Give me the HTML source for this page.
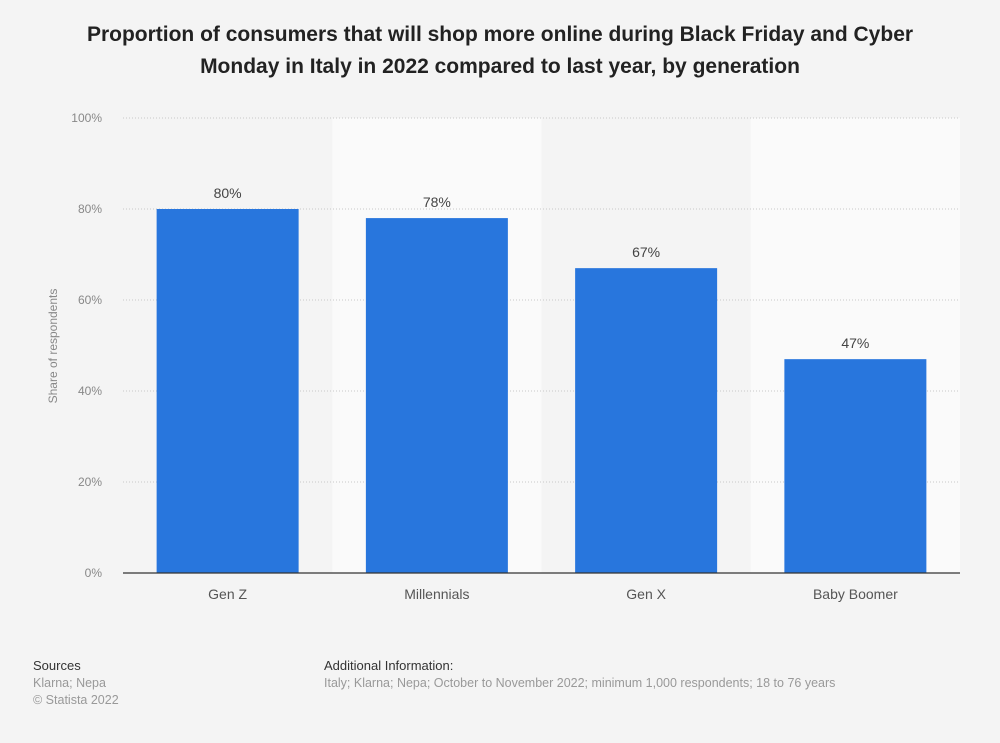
<!DOCTYPE html>
<html><head><meta charset="utf-8"><style>
body{margin:0;background:#f4f4f4;font-family:"Liberation Sans",Arial,sans-serif;}
#wrap{position:relative;width:1000px;height:743px;overflow:hidden;background:#f4f4f4;}
h1{position:absolute;left:0;top:19px;width:1000px;margin:0;text-align:center;font-size:21px;line-height:32px;font-weight:bold;color:#222;}
.ft{position:absolute;font-size:12.5px;color:#999;line-height:17px;}
.ft b{color:#333;font-weight:normal;font-size:13px;}
</style></head><body>
<div id="wrap">
<h1>Proportion of consumers that will shop more online during Black Friday and Cyber<br>Monday in Italy in 2022 compared to last year, by generation</h1>
<svg id="chart" width="1000" height="743" style="position:absolute;left:0;top:0"></svg>
<div class="ft" style="left:33px;top:657px"><b>Sources</b><br>Klarna; Nepa<br>© Statista 2022</div>
<div class="ft" style="left:324px;top:657px"><b>Additional Information:</b><br>Italy; Klarna; Nepa; October to November 2022; minimum 1,000 respondents; 18 to 76 years</div>
</div>
<script>
const categories=["Gen Z","Millennials","Gen X","Baby Boomer"];
const values=[80,78,67,47];
const valueLabels=["80%","78%","67%","47%"];
const ticks=[0,20,40,60,80,100];
const tickLabels=["0%","20%","40%","60%","80%","100%"];
const NS="http://www.w3.org/2000/svg";
const svg=document.getElementById('chart');
const x0=123,x1=960,y0=573,y1=118;
const bw=(x1-x0)/categories.length;
const y=v=>y0-(v/100)*(y0-y1);
function mk(t,a,txt){const e=document.createElementNS(NS,t);for(const k in a)e.setAttribute(k,a[k]);if(txt!==undefined)e.textContent=txt;svg.appendChild(e);return e;}
categories.forEach((c,i)=>{
  const r=mk('rect',{x:x0+i*bw,y:y1,width:bw,height:y0-y1,fill:i%2?'#fafafa':'#f4f4f4'});
  
  
});
ticks.forEach((t,i)=>{
  const l=mk('line',{x1:x0,x2:x1,y1:y(t),y2:y(t),stroke:'#c8c8c8','stroke-dasharray':'1,2'});
  
  
  const tx=mk('text',{x:102,y:y(t)+4,'text-anchor':'end','font-size':12,fill:'#888'},tickLabels[i]);
  
  
});
categories.forEach((c,i)=>{
  const cx=x0+(i+0.5)*bw,w=142;
  const b=mk('rect',{x:cx-w/2,y:y(values[i]),width:w,height:y0-y(values[i]),fill:'#2876dd'});
  
  
  const v=mk('text',{x:cx,y:y(values[i])-11,'text-anchor':'middle','font-size':14,fill:'#444'},valueLabels[i]);
  
  
  const xl=mk('text',{x:cx,y:599,'text-anchor':'middle','font-size':14,fill:'#555'},c);
  
  
});
const base=mk('line',{x1:x0,x2:x1,y1:y0,y2:y0,stroke:'#333','stroke-width':1.2});


const at=mk('text',{x:0,y:0,'text-anchor':'middle','font-size':12,fill:'#888',transform:'translate(57,346) rotate(-90)'},'Share of respondents');


</script>
</body></html>
